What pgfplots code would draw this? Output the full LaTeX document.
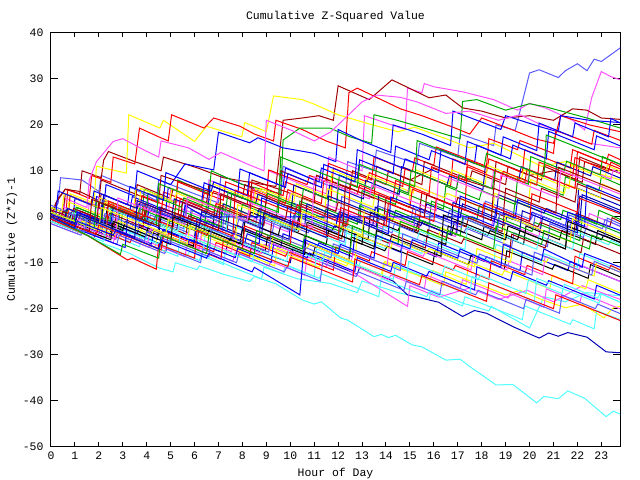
\documentclass[border=0pt]{standalone}
\usepackage{fontspec}
\usepackage{pgfplots}
\pgfplotsset{compat=1.18}
\newfontfamily\gpf{Liberation Mono}
\newcommand{\gpfont}{\gpf\fontsize{11.5}{13}\selectfont}
\definecolor{gred}{HTML}{FF0000}
\definecolor{ggreen}{HTML}{00A800}
\definecolor{gblue}{HTML}{0000FF}
\definecolor{gmag}{HTML}{FF50FF}
\definecolor{gcyan}{HTML}{50FFFF}
\definecolor{gdred}{HTML}{A00000}
\definecolor{gyel}{HTML}{FFFF00}
\definecolor{glblue}{HTML}{5A5AFF}
\definecolor{gdblue}{HTML}{0000B4}
\begin{document}
\begin{tikzpicture}
\begin{axis}[
    name=ax,
    scale only axis,
    width=569bp, height=413.5bp,
    xmin=0, xmax=23.78, ymin=-50, ymax=40,
    xtick={0,1,...,23},
    xticklabels={0,1,2,3,4,5,6,7,8,9,10,11,12,13,14,15,16,17,18,19,20,21,22,23},
    ytick={-50,-40,...,40},
    yticklabels={-50,-40,-30,-20,-10,0,10,20,30,40},
    tick align=inside, tick pos=both,
    x tick style={/pgfplots/major tick length=4.5bp},
    y tick style={/pgfplots/major tick length=7bp},
    tick style={black, line width=1bp},
    axis line style={line width=1bp},
    ticklabel style={font=\gpfont},
    xticklabel style={yshift=-1.5bp},
    yticklabel style={xshift=-4bp},
    every axis plot/.append style={line width=1bp},
]
% stations that stand out
\addplot[glblue] coordinates {(0,0.5)(0.3,3)(0.4,8.5)(1.3,8)(2,5.5)(2.1,9)(3.5,6)(4.4,3.5)(4.5,8)(6,5)(7,3)(7.1,9)(8.5,6)(9.6,4)(9.7,11)(11,8)(12.3,5.5)(12.4,12)(13.5,10)(13.6,14.5)(15.3,11.5)(15.4,16)(17,13)(17.1,18)(18.5,15.5)(18.6,20)(19.4,18.8)(20,31.3)(20.4,32)(21.2,30.3)(21.5,31.8)(22,33.3)(22.4,31.8)(22.7,34.3)(23,33.8)(23.8,36.8)};
\addplot[gmag] coordinates {(0,1)(0.8,-1)(1.5,-2)(1.6,3)(3,1)(4,-1)(4.1,5)(5.5,3)(6.5,1)(6.6,8)(8,5)(9,3)(9.1,10)(10.5,7)(11.5,5)(11.6,13)(13,10)(13.1,22)(14.8,19)(14.9,28)(15.5,27)(15.6,29)(16,28.3)(17.2,27.2)(18.5,25.5)(19.5,23.2)(20,24.7)(20.7,23.6)(21.8,21)(22.3,18.9)(22.6,26)(23,31.6)(23.4,30.5)(23.8,29.8)};
\addplot[gdred] coordinates {(0,0)(0.3,4)(0.6,6)(1.2,5)(1.3,10)(2.1,8.5)(2.2,12.3)(2.4,14.2)(3.5,12)(4.6,10)(4.7,13)(6.2,10.5)(7.2,8.5)(8.3,7.5)(9.4,6.6)(9.7,21)(10.5,21.5)(11.2,22)(11.8,21)(12,28.5)(13.3,25.5)(14.25,29.8)(15.8,25.9)(16.5,26.5)(17.2,23.7)(18,23)(19,21.5)(20,22)(21,21)(21.8,23.5)(22.4,23.2)(23,21.5)(23.8,21.2)};
\addplot[gyel] coordinates {(0,1)(0.7,-0.5)(0.8,5)(1.8,3)(1.9,11)(3.15,9.5)(3.25,22.2)(4.55,19.3)(4.7,21)(6,16.4)(6.5,19.7)(7.97,17.4)(8.1,20.5)(9,18.5)(9.3,26.3)(10.5,25.5)(11,24.5)(12,22.2)(13.3,20.2)(14.5,18.5)(15.2,19.5)(16.5,17)(17.5,15)(18.5,16)(19.5,13.5)(20.5,11)(21.5,12)(22.5,10)(23.8,8)};
\addplot[gred] coordinates {(0,0)(0.6,-1.5)(0.7,6)(1.6,4)(1.7,9)(2.5,7.5)(2.6,13)(3.5,11.5)(3.7,19.3)(4.5,17.4)(4.9,16.5)(5.04,22.2)(6.4,19.3)(6.8,21.5)(7.9,19.7)(8.5,18)(9.3,16.5)(9.4,21)(10.5,19)(11.5,16.5)(12.3,15)(12.45,27)(12.8,28)(13.8,25.5)(14.6,23.5)(15.5,22)(16.8,19.5)(17.5,18)(18,21.5)(19,19.5)(20.2,17)(21,16)(21.3,22)(22.5,20)(23.8,18.5)};
\addplot[ggreen] coordinates {(0,0)(1,-2)(1.1,2)(2.5,-1)(2.6,3)(3.8,0.5)(3.9,6)(5.2,3)(5.3,8)(6.6,5)(6.7,10)(8,7)(9.6,5)(9.7,16.7)(10.4,19.3)(11.66,19.3)(12.5,17.4)(13.4,16)(13.5,22.2)(14.4,21.1)(15.6,19.3)(17.1,17)(17.2,25.1)(17.8,25.5)(19,23.2)(20,24.6)(20.7,23.9)(22.4,21.5)(23.8,19.3)};
\addplot[gblue] coordinates {(0,0.5)(0.9,-1.5)(1,4)(2.2,1.5)(2.3,7)(3.5,4.5)(3.6,10)(5,7)(5.6,11.5)(6.8,10.2)(7,18.4)(8.3,16.1)(8.65,17.2)(9.7,15)(11,13.8)(11.9,12)(12,19)(13,16.5)(14.2,14)(14.3,20)(15.5,18)(16.7,15.5)(16.8,23)(17.8,21)(18.8,19)(19,22)(20.5,19.5)(21.2,18.5)(21.3,22)(22.5,21)(23.8,20.5)};
\addplot[gmag] coordinates {(0,0.5)(0.5,-0.5)(0.6,4)(1.5,2)(1.6,8)(1.9,12)(2.6,16.4)(3,17)(3.9,14.5)(4.5,13)(4.6,16.5)(5.75,15)(6.6,12.5)(7.1,14)(8.2,11.5)(8.9,10)(9,21)(10.2,18.5)(11,16.5)(11.7,18.5)(13,25)(13.6,26.5)(14.6,26)(15.3,25)(16.5,22.5)(17.5,23)(18.7,21)(19.6,22.2)(20.5,20)(21.5,18)(22.5,16)(23.8,15)};
\addplot[gdred] coordinates {(0,0)(0.2,3)(0.6,6)(1.2,5.5)(2,3.5)(2.1,8)(3.5,5)(4.5,3)(4.6,9)(6,6.5)(7.2,4.5)(8.3,2)(8.4,8)(9.8,5.5)(11,3)(11.1,9)(12.6,6)(13.5,4)(13.6,11)(15,8)(16,10.5)(17.3,8)(18.5,6)(18.6,12)(20,9)(21,10)(22.2,7.5)(22.3,12)(23.8,9.5)};
\addplot[gcyan] coordinates {(0,-0.5)(1,-2.5)(2,-5.5)(2.8,-7)(3.3,-8)(4.1,-10.1)(4.55,-11.2)(5.1,-12)(5.2,-10)(6.1,-11.5)(6.2,-10.7)(7.2,-12.5)(8.3,-14.1)(8.5,-13)(9.4,-14.6)(10.5,-18.1)(11,-19)(11.3,-18.5)(12.1,-22)(12.4,-22.5)(13.5,-26.1)(13.8,-25.6)(14.1,-26.3)(14.4,-25.8)(15.1,-27.9)(15.5,-28.3)(16.5,-31.2)(17.1,-31)(17.5,-32.6)(18.6,-36.6)(19.3,-36.5)(20.3,-40.5)(20.6,-39.1)(21.2,-39.6)(21.6,-37.9)(22.3,-39.5)(23.2,-43.5)(23.5,-42.3)(23.8,-43)};
\addplot[gcyan] coordinates {(0,0)(1.1,-2.5)(1.2,-1)(2.5,-4)(3.7,-6.5)(3.8,-4)(5,-7)(6.2,-9.5)(6.3,-8)(7.6,-11)(8.8,-13.5)(8.9,-11)(10.3,-13.5)(11.66,-14.5)(12.8,-16.5)(13,-14)(14.5,-16.5)(15.8,-18)(15.9,-16)(17.2,-18.8)(18.3,-20.5)(18.4,-19.5)(20,-24.2)(20.6,-17.4)(21.5,-18.5)(22.4,-16.5)(23.8,-17.2)};
\addplot[gdblue] coordinates {(0,0.5)(1,-1.5)(2,-3.5)(2.1,-1)(3.4,-3.5)(4.6,-6)(4.7,-3)(6,-5.5)(7.3,-8)(7.4,-5)(8.7,-7.5)(10,-10)(10.1,-7)(11.6,-10)(12.8,-12.5)(12.9,-11)(14.3,-14)(14.9,-17)(16.2,-18.6)(17.2,-21.7)(17.7,-20.4)(18.2,-21)(19.3,-23.9)(20.4,-26.4)(20.8,-25.3)(21.2,-26)(21.6,-25.2)(22.4,-26.2)(23.2,-29.4)(23.8,-29.6)};
\addplot[gyel] coordinates {(0,0)(1.2,-2.5)(1.3,0)(2.5,-2.5)(3.7,-5)(3.8,-2)(5,-4.5)(6.2,-7)(6.3,-4)(7.5,-6.5)(8.7,-9)(8.8,-6)(10,-8.5)(11.2,-11)(11.3,-8)(12.6,-10.5)(13.8,-13)(13.9,-10)(15.2,-12.5)(16.4,-15)(16.5,-12)(17.8,-14.5)(19,-17)(19.6,-16)(20.5,-18)(21.5,-19.8)(22.2,-19)(23.1,-22)(23.5,-19.8)(23.8,-19.5)};
\addplot[gmag] coordinates {(0,0.5)(1,-1.5)(1.1,1)(2.4,-1.5)(3.6,-4)(3.7,-2)(5,-4.5)(6.2,-7)(6.3,-3)(7.6,-5.5)(8.8,-8)(8.9,-6)(10.2,-8.5)(11.5,-11)(11.6,-9)(12.9,-13)(14.9,-19.5)(15,-15)(16.2,-17.5)(17.5,-15.5)(18.7,-18)(19.9,-16)(21,-18.5)(22.2,-15)(23.8,-18)};
% the rest of the stations
\addplot[gred] coordinates {(0,0)(0.8,-1.6)(0.9,1.4)(2.1,-1)(2.2,3)(3.9,-0.4)(4,1.6)(4.6,0.4)(4.7,5.4)(6.3,2.2)(6.4,5.2)(7.2,3.6)(7.3,7.6)(9,4.2)(9.1,10.2)(10.7,7)(10.8,9)(11.5,7.6)(11.6,11.6)(13.4,8)(13.5,13)(15.1,9.8)(15.2,12.8)(16,11.2)(16.1,15.2)(18.2,11)(18.3,17)(19.5,14.6)(19.6,16.6)(21,13.8)(21.1,18.8)(22.6,15.8)(22.7,18.8)(23.8,16.6)};
\addplot[ggreen] coordinates {(0,1)(1.3,-1.6)(1.4,0.4)(2.8,-2.6)(2.9,2.4)(4.3,-0.6)(4.4,0.4)(5.8,-2.6)(5.9,1.4)(7.3,-1.6)(7.4,1.4)(8.8,-1.6)(8.9,0.4)(10.3,-2.6)(10.4,3.4)(12.8,-1.6)(12.9,2.4)(14.3,-0.6)(14.4,1.4)(15.8,-1.6)(15.9,3.4)(17.8,-0.6)(17.9,2.4)(19.3,-0.6)(19.4,3.4)(21.3,-0.6)(21.4,1.4)(22.8,-1.6)(22.9,1.4)(23.8,-0.6)};
\addplot[gblue] coordinates {(0,-0.5)(0.6,-1.7)(0.7,-0.7)(2.1,-3.7)(2.2,-0.7)(3.6,-3.7)(3.7,-1.7)(4.6,-3.7)(4.7,-2.7)(6.1,-5.7)(6.2,-1.7)(8.1,-5.7)(8.2,-3.7)(9.6,-6.7)(9.7,-3.7)(11.1,-6.7)(11.2,-5.7)(12.6,-8.7)(12.7,-3.7)(14.6,-7.7)(14.7,-5.7)(16.1,-8.7)(16.2,-5.7)(18.1,-9.7)(18.2,-8.7)(19.6,-11.7)(19.7,-7.7)(21.6,-11.7)(21.7,-9.7)(23.8,-14.1)};
\addplot[gmag] coordinates {(0,1.5)(0.9,-0.3)(1,1.7)(1.9,-0.3)(2,0.7)(3.4,-2.3)(3.5,3.7)(5.4,-0.3)(5.5,1.7)(6.9,-1.3)(7,1.7)(8.4,-1.3)(8.5,-0.3)(9.9,-3.3)(10,-1.3)(11.4,-4.3)(11.5,2.7)(13.9,-2.3)(14,0.7)(15.4,-2.3)(15.5,-1.3)(16.9,-4.3)(17,0.7)(18.4,-2.3)(18.5,-0.3)(20.4,-4.3)(20.5,1.7)(22.4,-2.3)(22.5,0.7)(23.8,-2.1)};
\addplot[gcyan] coordinates {(0,0)(1.7,-3.4)(1.8,-2.4)(3.2,-5.4)(3.3,-3.4)(5.7,-8.4)(5.8,-7.4)(7.2,-10.4)(7.3,-7.4)(9.7,-12.4)(9.8,-10.4)(11.2,-13.4)(11.3,-12.4)(13.7,-17.4)(13.8,-13.4)(15.7,-17.4)(15.8,-16.4)(17.2,-19.4)(17.3,-17.4)(19.7,-22.4)(19.8,-19.4)(21.7,-23.4)(21.8,-22.4)(22.7,-24.4)(22.8,-20.4)(23.8,-22.4)};
\addplot[gdred] coordinates {(0,2)(0.5,1)(0.6,5)(2,2)(2.1,5)(3.5,2)(3.6,7)(5,4)(5.1,6)(6.5,3)(6.6,7)(8,4)(8.1,7)(9.5,4)(9.6,10)(11,7)(11.1,9)(12.5,6)(12.6,10)(14,7)(14.1,10)(15.5,7)(15.6,12)(17.5,8)(17.6,10)(19,7)(19.1,11)(20.5,8)(20.6,11)(22,8)(22.1,13)(23.8,9.4)};
\addplot[gyel] coordinates {(0,-1)(1.35,-3.7)(1.45,-1.7)(2.85,-4.7)(2.95,-3.7)(4.35,-6.7)(4.45,-3.7)(5.85,-6.7)(5.95,-4.7)(7.85,-8.7)(7.95,-7.7)(9.35,-10.7)(9.45,-6.7)(10.85,-9.7)(10.95,-7.7)(12.35,-10.7)(12.45,-9.7)(13.85,-12.7)(13.95,-9.7)(15.85,-13.7)(15.95,-11.7)(17.35,-14.7)(17.45,-9.7)(18.85,-12.7)(18.95,-11.7)(20.85,-15.7)(20.95,-12.7)(22.35,-15.7)(22.45,-13.7)(23.8,-16.6)};
\addplot[black] coordinates {(0,0.5)(0.75,-1)(0.85,1)(2.25,-2)(2.35,2)(3.75,-1)(3.85,0)(5.25,-3)(5.35,0)(6.75,-3)(6.85,2)(8.25,-1)(8.35,1)(10.25,-3)(10.35,0)(11.75,-3)(11.85,-2)(13.25,-5)(13.35,1)(15.25,-3)(15.35,-1)(16.75,-4)(16.85,-1)(18.25,-4)(18.35,-3)(19.75,-6)(19.85,-2)(21.25,-5)(21.35,-3)(22.75,-6)(22.85,-3)(23.8,-5.1)};
\addplot[glblue] coordinates {(0,2.5)(1.05,0.4)(1.15,1.4)(2.55,-1.6)(2.65,1.4)(4.05,-1.6)(4.15,0.4)(5.55,-2.6)(5.65,3.4)(7.05,0.4)(7.15,1.4)(8.55,-1.6)(8.65,1.4)(10.05,-1.6)(10.15,0.4)(12.05,-3.6)(12.15,4.4)(13.55,1.4)(13.65,2.4)(15.05,-0.6)(15.15,2.4)(16.55,-0.6)(16.65,1.4)(18.05,-1.6)(18.15,3.4)(20.05,-0.6)(20.15,0.4)(21.55,-2.6)(21.65,0.4)(23.05,-2.6)(23.15,-0.6)(23.8,-2.1)};
\addplot[gdblue] coordinates {(0,-1)(0.95,-2.9)(1.05,0.1)(2.95,-3.9)(3.05,-1.9)(4.45,-4.9)(4.55,2.1)(6.45,-1.9)(6.55,-0.9)(7.95,-3.9)(8.05,-0.9)(9.95,-4.9)(10.05,3.1)(11.95,-0.9)(12.05,1.1)(13.45,-1.9)(13.55,2.1)(15.45,-1.9)(15.55,-0.9)(16.95,-3.9)(17.05,2.1)(18.95,-1.9)(19.05,0.1)(20.45,-2.9)(20.55,0.1)(21.95,-2.9)(22.05,6.1)(23.8,2.4)};
\addplot[gred] coordinates {(0,1)(0.7,-0.4)(0.8,4.6)(2.2,1.6)(2.3,3.6)(3.7,0.6)(3.8,4.6)(5.2,1.6)(5.3,7.6)(6.7,4.6)(6.8,5.6)(8.2,2.6)(8.3,7.6)(9.7,4.6)(9.8,7.6)(11.7,3.6)(11.8,10.6)(13.2,7.6)(13.3,9.6)(14.7,6.6)(14.8,10.6)(16.7,6.6)(16.8,12.6)(18.2,9.6)(18.3,12.6)(19.7,9.6)(19.8,14.6)(21.7,10.6)(21.8,14.6)(23.2,11.6)(23.3,13.6)(23.8,12.4)};
\addplot[ggreen] coordinates {(0,-0.5)(1.4,-3.3)(1.5,-0.3)(2.9,-3.3)(3,1.7)(4.9,-2.3)(5,-0.3)(6.4,-3.3)(6.5,2.7)(7.9,-0.3)(8,2.7)(9.4,-0.3)(9.5,3.7)(11.4,-0.3)(11.5,1.7)(12.9,-1.3)(13,5.7)(14.4,2.7)(14.5,5.7)(16.4,1.7)(16.5,6.7)(17.9,3.7)(18,5.7)(19.4,2.7)(19.5,8.7)(21.4,4.7)(21.5,8.7)(22.9,5.7)(23,8.7)(23.8,6.9)};
\addplot[gblue] coordinates {(0,0)(0.3,-0.6)(0.4,1.4)(1.8,-1.6)(1.9,4.4)(3.3,1.4)(3.4,4.4)(4.8,1.4)(4.9,6.4)(6.3,3.4)(6.4,7.4)(7.8,4.4)(7.9,10.4)(9.8,6.4)(9.9,9.4)(11.3,6.4)(11.4,11.4)(12.8,8.4)(12.9,12.4)(14.3,9.4)(14.4,15.4)(15.8,12.4)(15.9,14.4)(17.3,11.4)(17.4,16.4)(18.8,13.4)(18.9,17.4)(20.3,14.4)(20.4,20.4)(21.8,17.4)(21.9,20.4)(23.3,17.4)(23.4,21.4)(23.8,20.4)};
\addplot[gmag] coordinates {(0,-1.5)(1.1,-3.7)(1.2,-2.7)(2.6,-5.7)(2.7,-3.7)(4.1,-6.7)(4.2,-5.7)(5.6,-8.7)(5.7,-5.7)(7.6,-9.7)(7.7,-7.7)(9.1,-10.7)(9.2,-9.7)(10.6,-12.7)(10.7,-8.7)(12.6,-12.7)(12.7,-10.7)(14.1,-13.7)(14.2,-12.7)(15.6,-15.7)(15.7,-12.7)(17.1,-15.7)(17.2,-13.7)(19.1,-17.7)(19.2,-16.7)(20.6,-19.7)(20.7,-15.7)(22.1,-18.7)(22.2,-16.7)(23.8,-20.1)};
\addplot[gcyan] coordinates {(0,1)(1,-1)(1.1,1)(2.5,-2)(2.6,-1)(4,-4)(4.1,-1)(5.5,-4)(5.6,-2)(7.5,-6)(7.6,-2)(9,-5)(9.1,-4)(10.5,-7)(10.6,-5)(12,-8)(12.1,-3)(14,-7)(14.1,-5)(15.5,-8)(15.6,-5)(17,-8)(17.1,-7)(18.5,-10)(18.6,-6)(20.5,-10)(20.6,-8)(22,-11)(22.1,-8)(23.8,-11.6)};
\addplot[gdred] coordinates {(0,0.5)(0.85,-1.2)(0.95,1.8)(2.35,-1.2)(2.45,0.8)(3.85,-2.2)(3.95,2.8)(5.85,-1.2)(5.95,-0.2)(7.35,-3.2)(7.45,0.8)(8.85,-2.2)(8.95,-0.2)(10.35,-3.2)(10.45,2.8)(12.35,-1.2)(12.45,-0.2)(13.85,-3.2)(13.95,-0.2)(15.35,-3.2)(15.45,1.8)(17.35,-2.2)(17.45,-0.2)(18.85,-3.2)(18.95,0.8)(20.35,-2.2)(20.45,-1.2)(21.85,-4.2)(21.95,0.8)(23.35,-2.2)(23.45,-0.2)(23.8,-1.1)};
\addplot[gyel] coordinates {(0,0.5)(0.65,-0.8)(0.75,3.2)(2.15,0.2)(2.25,3.2)(3.65,0.2)(3.75,6.2)(5.15,3.2)(5.25,5.2)(6.65,2.2)(6.75,7.2)(8.65,3.2)(8.75,6.2)(10.15,3.2)(10.25,7.2)(11.65,4.2)(11.75,10.2)(13.15,7.2)(13.25,9.2)(15.15,5.2)(15.25,10.2)(16.65,7.2)(16.75,10.2)(18.15,7.2)(18.25,11.2)(19.65,8.2)(19.75,10.2)(21.65,6.2)(21.75,11.2)(23.15,8.2)(23.25,11.2)(23.8,9.9)};
\addplot[black] coordinates {(0,-0.5)(0.95,-2.4)(1.05,-1.4)(2.45,-4.4)(2.55,-1.4)(3.95,-4.4)(4.05,-2.4)(5.95,-6.4)(6.05,-2.4)(7.45,-5.4)(7.55,-4.4)(8.95,-7.4)(9.05,-4.4)(10.95,-8.4)(11.05,-6.4)(12.45,-9.4)(12.55,-4.4)(13.95,-7.4)(14.05,-6.4)(15.95,-10.4)(16.05,-7.4)(17.45,-10.4)(17.55,-8.4)(18.95,-11.4)(19.05,-7.4)(20.95,-11.4)(21.05,-10.4)(22.45,-13.4)(22.55,-10.4)(23.8,-13.1)};
\addplot[glblue] coordinates {(0,1)(1.25,-1.5)(1.35,0.5)(2.75,-2.5)(2.85,1.5)(4.25,-1.5)(4.35,-0.5)(5.75,-3.5)(5.85,1.5)(7.75,-2.5)(7.85,-0.5)(9.25,-3.5)(9.35,-0.5)(10.75,-3.5)(10.85,-2.5)(12.25,-5.5)(12.35,0.5)(14.25,-3.5)(14.35,-1.5)(15.75,-4.5)(15.85,-0.5)(17.25,-3.5)(17.35,-2.5)(19.25,-6.5)(19.35,-3.5)(20.75,-6.5)(20.85,-1.5)(22.25,-4.5)(22.35,-2.5)(23.8,-5.6)};
\addplot[gdblue] coordinates {(0,0)(0.55,-1.1)(0.65,1.9)(2.05,-1.1)(2.15,3.9)(3.55,0.9)(3.65,2.9)(5.05,-0.1)(5.15,3.9)(6.55,0.9)(6.65,6.9)(8.55,2.9)(8.65,4.9)(10.05,1.9)(10.15,6.9)(11.55,3.9)(11.65,6.9)(13.05,3.9)(13.15,7.9)(14.55,4.9)(14.65,10.9)(16.55,6.9)(16.65,8.9)(18.05,5.9)(18.15,10.9)(19.55,7.9)(19.65,10.9)(21.05,7.9)(21.15,11.9)(22.55,8.9)(22.65,10.9)(23.8,8.4)};
\addplot[gred] coordinates {(0,-1)(1.8,-4.6)(1.9,-2.6)(3.3,-5.6)(3.4,-4.6)(4.8,-7.6)(4.9,-3.6)(6.8,-7.6)(6.9,-5.6)(8.3,-8.6)(8.4,-5.6)(9.8,-8.6)(9.9,-7.6)(11.8,-11.6)(11.9,-6.6)(13.3,-9.6)(13.4,-7.6)(14.8,-10.6)(14.9,-7.6)(16.8,-11.6)(16.9,-10.6)(18.3,-13.6)(18.4,-9.6)(19.8,-12.6)(19.9,-10.6)(21.8,-14.6)(21.9,-8.6)(23.3,-11.6)(23.4,-10.6)(23.8,-11.6)};
\addplot[ggreen] coordinates {(0,2)(0.6,0.8)(0.7,1.8)(2.1,-1.2)(2.2,2.8)(3.6,-0.2)(3.7,1.8)(5.1,-1.2)(5.2,1.8)(7.1,-2.2)(7.2,2.8)(8.6,-0.2)(8.7,0.8)(10.1,-2.2)(10.2,0.8)(12.1,-3.2)(12.2,-1.2)(13.6,-4.2)(13.7,1.8)(15.1,-1.2)(15.2,-0.2)(17.1,-4.2)(17.2,-0.2)(18.6,-3.2)(18.7,-0.2)(20.1,-3.2)(20.2,-1.2)(22.1,-5.2)(22.2,-0.2)(23.8,-3.6)};
\addplot[gblue] coordinates {(0,-0.5)(0.7,-1.9)(0.8,-0.9)(2.7,-4.9)(2.8,-2.9)(4.2,-5.9)(4.3,-2.9)(5.7,-5.9)(5.8,-4.9)(7.7,-8.9)(7.8,-6.9)(9.2,-9.9)(9.3,-5.9)(10.7,-8.9)(10.8,-7.9)(12.7,-11.9)(12.8,-8.9)(14.2,-11.9)(14.3,-9.9)(15.7,-12.9)(15.8,-11.9)(17.7,-15.9)(17.8,-10.9)(19.2,-13.9)(19.3,-11.9)(20.7,-14.9)(20.8,-13.9)(22.7,-17.9)(22.8,-14.9)(23.8,-17.1)};
\addplot[gmag] coordinates {(0,0)(0.4,-0.8)(0.5,2.2)(1.9,-0.8)(2,4.2)(3.4,1.2)(3.5,3.2)(4.9,0.2)(5,6.2)(6.9,2.2)(7,5.2)(8.4,2.2)(8.5,6.2)(9.9,3.2)(10,5.2)(11.9,1.2)(12,8.2)(13.4,5.2)(13.5,8.2)(14.9,5.2)(15,7.2)(16.9,3.2)(17,9.2)(18.4,6.2)(18.5,10.2)(19.9,7.2)(20,10.2)(21.9,6.2)(22,11.2)(23.4,8.2)(23.5,10.2)(23.8,9.4)};
\addplot[gcyan] coordinates {(0,-1)(1.35,-3.7)(1.45,-0.7)(2.85,-3.7)(2.95,-2.7)(4.85,-6.7)(4.95,-4.7)(6.35,-7.7)(6.45,-3.7)(7.85,-6.7)(7.95,-5.7)(9.85,-9.7)(9.95,-6.7)(11.35,-9.7)(11.45,-7.7)(12.85,-10.7)(12.95,-9.7)(14.85,-13.7)(14.95,-9.7)(16.35,-12.7)(16.45,-10.7)(17.85,-13.7)(17.95,-12.7)(19.85,-16.7)(19.95,-13.7)(21.35,-16.7)(21.45,-14.7)(22.85,-17.7)(22.95,-16.7)(23.8,-18.6)};
\addplot[gdred] coordinates {(0,1.5)(1.15,-0.8)(1.25,1.2)(2.65,-1.8)(2.75,1.2)(4.15,-1.8)(4.25,-0.8)(5.65,-3.8)(5.75,0.2)(7.65,-3.8)(7.75,-1.8)(9.15,-4.8)(9.25,0.2)(10.65,-2.8)(10.75,-1.8)(12.15,-4.8)(12.25,-1.8)(14.15,-5.8)(14.25,-3.8)(15.65,-6.8)(15.75,-2.8)(17.15,-5.8)(17.25,-4.8)(19.15,-8.8)(19.25,-3.8)(20.65,-6.8)(20.75,-4.8)(22.15,-7.8)(22.25,-4.8)(23.8,-8.1)};
\addplot[gyel] coordinates {(0,2)(0.45,1.1)(0.55,5.1)(1.95,2.1)(2.05,4.1)(3.45,1.1)(3.55,6.1)(4.95,3.1)(5.05,6.1)(6.95,2.1)(7.05,3.1)(8.45,0.1)(8.55,6.1)(9.95,3.1)(10.05,5.1)(11.45,2.1)(11.55,6.1)(13.45,2.1)(13.55,5.1)(14.95,2.1)(15.05,7.1)(16.45,4.1)(16.55,5.1)(18.45,1.1)(18.55,5.1)(19.95,2.1)(20.05,8.1)(21.45,5.1)(21.55,7.1)(22.95,4.1)(23.05,7.1)(23.8,5.4)};
\addplot[black] coordinates {(0,0)(1.5,-3)(1.6,0)(3,-3)(3.1,-1)(4.5,-4)(4.6,0)(6.5,-4)(6.6,-3)(8,-6)(8.1,-1)(9.5,-4)(9.6,-2)(11.5,-6)(11.6,-3)(13,-6)(13.1,0)(14.5,-3)(14.6,-2)(16.5,-6)(16.6,-2)(18,-5)(18.1,-2)(19.5,-5)(19.6,-3)(21.5,-7)(21.6,-2)(23,-5)(23.1,-4)(23.8,-5.6)};
\addplot[glblue] coordinates {(0,-1.5)(1.25,-4)(1.35,-3)(2.75,-6)(2.85,-4)(4.75,-8)(4.85,-7)(6.25,-10)(6.35,-7)(7.75,-10)(7.85,-8)(9.75,-12)(9.85,-11)(11.25,-14)(11.35,-10)(12.75,-13)(12.85,-12)(14.75,-16)(14.85,-14)(16.25,-17)(16.35,-14)(17.75,-17)(17.85,-16)(19.75,-20)(19.85,-18)(21.25,-21)(21.35,-17)(22.75,-20)(22.85,-19)(23.8,-21.1)};
\addplot[gdblue] coordinates {(0,1)(0.6,-0.2)(0.7,1.8)(2.1,-1.2)(2.2,4.8)(3.6,1.8)(3.7,2.8)(5.6,-1.2)(5.7,2.8)(7.1,-0.2)(7.2,2.8)(8.6,-0.2)(8.7,1.8)(10.6,-2.2)(10.7,2.8)(12.1,-0.2)(12.2,0.8)(13.6,-2.2)(13.7,4.8)(15.6,0.8)(15.7,2.8)(17.1,-0.2)(17.2,2.8)(18.6,-0.2)(18.7,4.8)(20.6,0.8)(20.7,1.8)(22.1,-1.2)(22.2,4.8)(23.8,1.4)};
\addplot[gred] coordinates {(0,0.5)(0.8,-1.1)(0.9,0.9)(2.3,-2.1)(2.4,2.9)(3.8,-0.1)(3.9,2.9)(5.3,-0.1)(5.4,3.9)(6.8,0.9)(6.9,2.9)(8.3,-0.1)(8.4,5.9)(9.8,2.9)(9.9,5.9)(11.3,2.9)(11.4,7.9)(12.8,4.9)(12.9,6.9)(14.3,3.9)(14.4,7.9)(15.8,4.9)(15.9,10.9)(17.3,7.9)(17.4,10.9)(18.8,7.9)(18.9,9.9)(20.3,6.9)(20.4,11.9)(21.8,8.9)(21.9,12.9)(23.3,9.9)(23.4,11.9)(23.8,10.9)};
\addplot[ggreen] coordinates {(0,0)(0.95,-1.9)(1.05,2.1)(2.45,-0.9)(2.55,2.1)(3.95,-0.9)(4.05,5.1)(5.45,2.1)(5.55,4.1)(7.45,0.1)(7.55,5.1)(8.95,2.1)(9.05,5.1)(10.45,2.1)(10.55,6.1)(11.95,3.1)(12.05,9.1)(13.45,6.1)(13.55,8.1)(14.95,5.1)(15.05,10.1)(16.95,6.1)(17.05,9.1)(18.45,6.1)(18.55,10.1)(19.95,7.1)(20.05,13.1)(21.45,10.1)(21.55,12.1)(22.95,9.1)(23.05,13.1)(23.8,11.4)};
\addplot[gblue] coordinates {(0,1)(0.2,0.6)(0.3,5.6)(1.7,2.6)(1.8,5.6)(3.2,2.6)(3.3,6.6)(4.7,3.6)(4.8,9.6)(6.7,5.6)(6.8,7.6)(8.2,4.6)(8.3,9.6)(9.7,6.6)(9.8,10.6)(11.2,7.6)(11.3,10.6)(12.7,7.6)(12.8,14.6)(14.7,10.6)(14.8,12.6)(16.2,9.6)(16.3,14.6)(17.7,11.6)(17.8,15.6)(19.2,12.6)(19.3,15.6)(20.7,12.6)(20.8,18.6)(22.7,14.6)(22.8,17.6)(23.8,15.4)};
\addplot[gmag] coordinates {(0,-0.5)(1.05,-2.6)(1.15,-0.6)(2.55,-3.6)(2.65,-2.6)(4.05,-5.6)(4.15,-2.6)(5.55,-5.6)(5.65,-3.6)(7.55,-7.6)(7.65,-3.6)(9.05,-6.6)(9.15,-5.6)(10.55,-8.6)(10.65,-5.6)(12.55,-9.6)(12.65,-7.6)(14.05,-10.6)(14.15,-5.6)(15.55,-8.6)(15.65,-7.6)(17.55,-11.6)(17.65,-8.6)(19.05,-11.6)(19.15,-9.6)(20.55,-12.6)(20.65,-8.6)(22.05,-11.6)(22.15,-10.6)(23.8,-14.1)};
\addplot[gcyan] coordinates {(0,0.5)(0.8,-1.1)(0.9,0.9)(2.3,-2.1)(2.4,1.9)(3.8,-1.1)(3.9,-0.1)(5.3,-3.1)(5.4,-0.1)(7.3,-4.1)(7.4,0.9)(8.8,-2.1)(8.9,-0.1)(10.3,-3.1)(10.4,-2.1)(12.3,-6.1)(12.4,-2.1)(13.8,-5.1)(13.9,-2.1)(15.3,-5.1)(15.4,-3.1)(17.3,-7.1)(17.4,-2.1)(18.8,-5.1)(18.9,-4.1)(20.3,-7.1)(20.4,-4.1)(21.8,-7.1)(21.9,-3.1)(23.3,-6.1)(23.4,-5.1)(23.8,-6.1)};
\addplot[gdred] coordinates {(0,0)(0.4,-0.8)(0.5,1.2)(1.9,-1.8)(2,3.2)(3.9,-0.8)(4,2.2)(5.4,-0.8)(5.5,3.2)(6.9,0.2)(7,2.2)(8.9,-1.8)(9,4.2)(10.4,1.2)(10.5,4.2)(11.9,1.2)(12,3.2)(13.9,-0.8)(14,4.2)(15.4,1.2)(15.5,5.2)(16.9,2.2)(17,4.2)(18.9,0.2)(19,6.2)(20.4,3.2)(20.5,6.2)(21.9,3.2)(22,7.2)(23.8,3.4)};
\addplot[gyel] coordinates {(0,-0.5)(1.2,-2.9)(1.3,-0.9)(2.7,-3.9)(2.8,-0.9)(4.2,-3.9)(4.3,-2.9)(5.7,-5.9)(5.8,-1.9)(7.7,-5.9)(7.8,-3.9)(9.2,-6.9)(9.3,-3.9)(10.7,-6.9)(10.8,-5.9)(12.7,-9.9)(12.8,-3.9)(14.2,-6.9)(14.3,-4.9)(15.7,-7.9)(15.8,-6.9)(17.7,-10.9)(17.8,-6.9)(19.2,-9.9)(19.3,-6.9)(20.7,-9.9)(20.8,-8.9)(22.7,-12.9)(22.8,-9.9)(23.8,-12.1)};
\addplot[gblue] coordinates {(0,0.5)(1,-1.5)(1.1,1)(2.5,-1.5)(2.6,2)(4,-1)(4.1,1.5)(5.5,-1)(5.6,2.5)(6.4,0)(17.6,0)(18.5,-2)(18.6,2)(20,-1)(20.1,1)(21.5,-2)(21.6,1)(23,-1.5)(23.8,-3)};
\addplot[glblue] coordinates {(0,0)(0.65,-1.3)(0.75,0.7)(2.15,-2.3)(2.25,0.7)(3.65,-2.3)(3.75,2.7)(5.65,-1.3)(5.75,-0.3)(7.15,-3.3)(7.25,0.7)(8.65,-2.3)(8.75,-0.3)(10.15,-3.3)(10.25,2.7)(12.15,-1.3)(12.25,1.7)(13.65,-1.3)(13.75,-0.3)(15.15,-3.3)(15.25,1.7)(17.15,-2.3)(17.25,-0.3)(18.65,-3.3)(18.75,0.7)(20.15,-2.3)(20.25,0.7)(21.65,-2.3)(21.75,-1.3)(23.15,-4.3)(23.25,-0.3)(23.8,-1.6)};
\addplot[gred] coordinates {(0,0)(2.3,-4.6)(2.4,3.4)(5.1,-2.2)(5.2,0.8)(7.6,-4.2)(7.7,5.8)(10.2,0.6)(10.3,2.6)(12.4,-1.8)(12.5,7.2)(15,2)(15.1,6)(17.3,1.4)(17.4,12.4)(19.8,7.4)(19.9,10.4)(21.9,6.2)(22,14.2)(23.8,10.4)};
\addplot[ggreen] coordinates {(0,1)(1.8,-2.6)(1.9,3.4)(4.4,-1.8)(4.5,7.2)(7.3,1.4)(7.4,5.4)(9.5,1)(9.6,13)(12.8,6.4)(12.9,11.4)(15.2,6.6)(15.3,16.6)(18.1,10.8)(18.2,13.8)(20.6,8.8)(20.7,17.8)(23.8,11.4)};
\addplot[gblue] coordinates {(0,-0.5)(3.1,-6.7)(3.2,0.3)(6,-5.5)(6.1,-0.5)(8.7,-5.9)(8.8,4.1)(11.9,-2.3)(12,0.7)(14.1,-3.7)(14.2,4.3)(17,-1.5)(17.1,4.5)(19.4,-0.3)(19.5,3.7)(22.3,-2.1)(22.4,6.9)(23.8,3.9)};
\addplot[gmag] coordinates {(0,0.5)(2.7,-4.9)(2.8,4.1)(5.6,-1.7)(5.7,4.3)(8.2,-0.9)(8.3,3.1)(10.9,-2.3)(11,8.7)(13.3,3.9)(13.4,6.9)(16.1,1.3)(16.2,9.3)(18.7,4.1)(18.8,9.1)(21.2,4.1)(21.3,10.1)(23.8,4.9)};
\addplot[gcyan] coordinates {(0,-1)(2.2,-5.4)(2.3,-2.4)(5.3,-8.6)(5.4,-3.6)(8.4,-9.8)(8.5,-7.8)(11,-13)(11.1,-7)(14.3,-13.6)(14.4,-10.6)(17.5,-17)(17.6,-13)(20.2,-18.4)(20.3,-13.4)(22.9,-18.8)(23,-16.8)(23.8,-18.6)};
\addplot[gdred] coordinates {(0,0)(1.6,-3.2)(1.7,3.8)(4.5,-2)(4.6,2)(7,-3)(7.1,5)(9.8,-0.6)(9.9,2.4)(12.2,-2.4)(12.3,6.6)(15.6,-0.2)(15.7,4.8)(18.4,-0.8)(18.5,6.2)(21.1,0.8)(21.2,10.8)(23.8,5.4)};
\addplot[gyel] coordinates {(0,1)(2,-3)(2.1,2)(4.8,-3.6)(4.9,-0.6)(7.7,-6.4)(7.8,2.6)(10.4,-2.8)(10.5,1.2)(13,-4)(13.1,2)(16.2,-4.4)(16.3,-2.4)(18.9,-7.8)(19,0.2)(21.7,-5.4)(21.8,-0.4)(23.8,-4.6)};
\addplot[black] coordinates {(0,0)(2.5,-5)(2.6,-1)(5,-6)(5.1,0)(7.9,-5.8)(8,-2.8)(10.6,-8.2)(10.7,-1.2)(13.5,-7)(13.6,-3)(16.3,-8.6)(16.4,0.4)(19,-5)(19.1,-2)(21.5,-7)(21.6,-1)(23.8,-5.6)};
\addplot[glblue] coordinates {(0,-0.5)(1.4,-3.3)(1.5,-0.3)(3.9,-5.3)(4,-3.3)(6.6,-8.7)(6.7,-2.7)(9.1,-7.7)(9.2,-3.7)(11.7,-8.9)(11.8,-5.9)(14.6,-11.7)(14.7,-3.7)(17.8,-10.1)(17.9,-8.1)(20.1,-12.7)(20.2,-7.7)(22.6,-12.7)(22.7,-9.7)(23.8,-12.1)};
\addplot[gdblue] coordinates {(0,0.5)(1,-1.5)(1.1,0.5)(3.5,-4.5)(3.6,3.5)(6.2,-1.9)(6.3,1.1)(8.8,-4.1)(8.9,0.9)(11.5,-4.5)(11.6,4.5)(14,-0.5)(14.1,1.5)(16.7,-3.9)(16.8,3.1)(19.6,-2.7)(19.7,1.3)(22,-3.5)(22.1,4.5)(23.8,0.9)};
\addplot[gred] coordinates {(0,0)(1.9,-3.8)(2,-1.8)(4.6,-7.2)(4.7,-4.2)(7.1,-9.2)(7.2,-5.2)(9.9,-10.8)(10,-8.8)(12.6,-14.2)(12.7,-9.2)(15.4,-14.8)(15.5,-12.8)(18.2,-18.4)(18.3,-14.4)(21,-20)(21.1,-17)(23.8,-22.6)};
\addplot[gred] coordinates {(0,-0.5)(1.5,-4)(3.2,-9.4)(3.4,-9)(4.4,-11.4)(4.5,-6)(6,-9)(6.1,-3)(8,-7)(8.1,-2)(10,-6)(10.1,-1)(12,-5)(12.1,2)(14,-2)(14.1,3)(16,-1)(16.1,4)(18,0)(18.1,3)(20,-1)(20.1,5)(22,1)(22.1,4)(23.8,0.6)};
\addplot[ggreen] coordinates {(0,0)(1.5,-4)(2.9,-8.2)(3,-6)(4.5,-9)(4.6,-4)(6.5,-8)(6.6,-4)(8.5,-8)(8.6,-3)(10.5,-7)(10.6,-4)(12.5,-8)(12.6,-2)(14.5,-6)(14.6,-1)(16.5,-5)(16.6,-3)(18.5,-7)(18.6,-2)(20.5,-6)(20.6,-3)(22.5,-7)(22.6,-4)(23.8,-6.4)};
\addplot[gblue] coordinates {(0,0)(1,-2.5)(1.1,-1)(2.6,-4)(2.7,-3)(4.5,-7)(4.6,-5)(6.5,-9)(6.6,-8)(8.4,-12)(8.5,-11)(10.4,-17)(10.6,-5)(12,-8)(12.1,-6)(13.5,-9)(13.6,-4)(15,-7)(15.1,-5)(17,-9)(17.1,-7)(18.8,-11)(18.9,-6)(20.5,-9.5)(20.6,-7)(22.2,-11)(22.3,-8)(23.8,-11)};
\end{axis}
\node[font=\gpfont, anchor=base] at ([yshift=13bp]ax.north) {Cumulative Z-Squared Value};
\node[font=\gpfont, anchor=base] at ([yshift=-30bp]ax.south) {Hour of Day};
\node[font=\gpfont, rotate=90, anchor=base] at ([xshift=-36bp]ax.west) {Cumulative (Z*Z)-1};
\pgfresetboundingbox
\path[use as bounding box] ([shift={(-51bp,-33.5bp)}]ax.south west) rectangle ([shift={(20bp,33bp)}]ax.north east);
\end{tikzpicture}
\end{document}
